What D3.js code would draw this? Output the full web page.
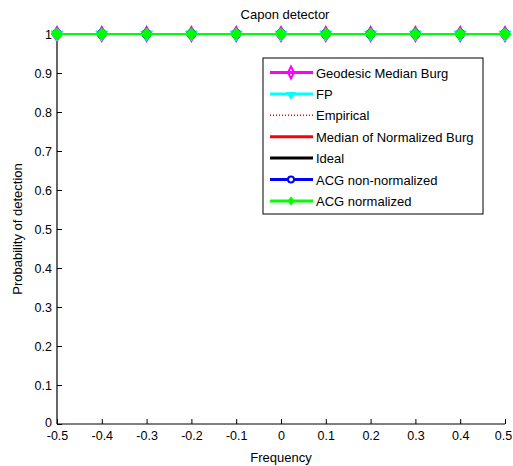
<!DOCTYPE html>
<html><head><meta charset="utf-8">
<script src="https://cdn.jsdelivr.net/npm/d3@7"></script>
<style>body{margin:0;background:#fff;} text{font-family:"Liberation Sans",Arial,sans-serif;}</style>
</head><body>
<svg id="c" width="513" height="466"></svg>
<script>
const frequencies = [-0.5,-0.4,-0.3,-0.2,-0.1,0,0.1,0.2,0.3,0.4,0.5];
const geodesicMedianBurg = [1,1,1,1,1,1,1,1,1,1,1];
const fp = [1,1,1,1,1,1,1,1,1,1,1];
const empirical = [1,1,1,1,1,1,1,1,1,1,1];
const medianNormalizedBurg = [1,1,1,1,1,1,1,1,1,1,1];
const ideal = [1,1,1,1,1,1,1,1,1,1,1];
const acgNonNormalized = [1,1,1,1,1,1,1,1,1,1,1];
const acgNormalized = [1,1,1,1,1,1,1,1,1,1,1];
const xTicks = [-0.5,-0.4,-0.3,-0.2,-0.1,0,0.1,0.2,0.3,0.4,0.5];
const yTicks = [0,0.1,0.2,0.3,0.4,0.5,0.6,0.7,0.8,0.9,1];
const seriesNames = ["Geodesic Median Burg","FP","Empirical","Median of Normalized Burg","Ideal","ACG non-normalized","ACG normalized"];

const series = [
  {name:seriesNames[0], values:geodesicMedianBurg, color:"#ff00ff", dash:null, marker:"diamond", w:2},
  {name:seriesNames[1], values:fp, color:"#00ffff", dash:null, marker:"triangle", w:2},
  {name:seriesNames[2], values:empirical, color:"#ff0000", dash:"1,2", marker:null, w:1.5},
  {name:seriesNames[3], values:medianNormalizedBurg, color:"#ff0000", dash:null, marker:null, w:2},
  {name:seriesNames[4], values:ideal, color:"#000000", dash:null, marker:null, w:2},
  {name:seriesNames[5], values:acgNonNormalized, color:"#0000ff", dash:null, marker:"circle", w:2},
  {name:seriesNames[6], values:acgNormalized, color:"#00ff00", dash:null, marker:"greendiamond", w:2}
];

const FS = 13, TFS = 12.5;
const svg = d3.select("#c");
const L=57, R=505, T=34, B=424;
const x = d3.scaleLinear().domain([-0.5,0.5]).range([L,R]);
const y = d3.scaleLinear().domain([0,1]).range([B,T]);
const fmt = d => String(+d.toFixed(1)).replace("\u2212","-");

// axes
const xAxis = d3.axisBottom(x).tickValues(xTicks).tickSize(-5).tickPadding(7).tickFormat(fmt);
const yAxis = d3.axisLeft(y).tickValues(yTicks).tickSize(-5).tickPadding(5).tickFormat(fmt);
const gx = svg.append("g").attr("transform",`translate(0,${B})`).call(xAxis);
const gy = svg.append("g").attr("transform",`translate(${L},0)`).call(yAxis);
[gx,gy].forEach(g=>{
  g.select(".domain").attr("stroke","#000").attr("stroke-width",1.2).attr("d", g===gx?`M${L},0H${R}`:`M0,${B}V${T}`);
  g.selectAll(".tick line").attr("stroke","#000");
  g.selectAll(".tick text").attr("font-size",TFS).attr("fill","#000").attr("font-family","Liberation Sans, Arial, sans-serif");
});
// keep last x label inside the window, nudge y "0" label up slightly
gx.selectAll(".tick text").filter(d=>d===0.5).attr("dx",-2);
gy.selectAll(".tick text").filter(d=>d===0).attr("dy","0.2em");

function drawMarker(g, type, color, cx, cy){
  if(type==="diamond"){
    g.append("path").attr("d",`M${cx},${cy-7}L${cx+4},${cy}L${cx},${cy+7}L${cx-4},${cy}Z`).attr("fill","none").attr("stroke",color).attr("stroke-width",2);
  } else if(type==="triangle"){
    g.append("path").attr("d",`M${cx-6},${cy-3}L${cx+6},${cy-3}L${cx},${cy+7}Z`).attr("fill",color).attr("stroke",color).attr("stroke-width",1);
  } else if(type==="circle"){
    g.append("circle").attr("cx",cx).attr("cy",cy).attr("r",4).attr("fill","none").attr("stroke",color).attr("stroke-width",2);
  } else if(type==="greendiamond"){
    g.append("path").attr("d",`M${cx},${cy-6}L${cx+6},${cy}L${cx},${cy+6}L${cx-6},${cy}Z`).attr("fill",color).attr("stroke",color).attr("stroke-width",1);
  }
}

const line = d3.line().x((d,i)=>x(frequencies[i])).y(d=>y(d));
const plot = svg.append("g");
series.forEach(s=>{
  plot.append("path").datum(s.values).attr("d",line).attr("fill","none")
    .attr("stroke",s.color).attr("stroke-width",s.w).attr("stroke-dasharray",s.dash);
  if(s.marker){
    s.values.forEach((v,i)=>drawMarker(plot,s.marker,s.color,x(frequencies[i]),y(v)));
  }
});

// title & labels
svg.append("text").attr("x",285).attr("y",19).attr("text-anchor","middle").attr("font-size",FS).text("Capon detector");
svg.append("text").attr("x",281).attr("y",462).attr("text-anchor","middle").attr("font-size",FS).text("Frequency");
svg.append("text").attr("transform","translate(22,229) rotate(-90)").attr("text-anchor","middle").attr("font-size",FS).text("Probability of detection");

// legend
const lg = svg.append("g");
lg.append("rect").attr("x",263).attr("y",58).attr("width",220).attr("height",156).attr("fill","#fff").attr("stroke","#000").attr("stroke-width",1);
series.forEach((s,i)=>{
  const ly = 72.5 + i*21.4;
  lg.append("line").attr("x1",270).attr("x2",313).attr("y1",ly).attr("y2",ly)
    .attr("stroke",s.color).attr("stroke-width",s.dash?1.5:3).attr("stroke-dasharray",s.dash);
  if(s.marker){
    const m = s.marker;
    if(m==="diamond"){
      lg.append("path").attr("d",`M291,${ly-6}L294,${ly}L291,${ly+6}L288,${ly}Z`).attr("fill","none").attr("stroke",s.color).attr("stroke-width",2);
    } else if(m==="triangle"){
      lg.append("path").attr("d",`M286,${ly-2}L296,${ly-2}L291,${ly+6}Z`).attr("fill",s.color);
    } else if(m==="circle"){
      lg.append("circle").attr("cx",291).attr("cy",ly).attr("r",3).attr("fill","#fff").attr("stroke",s.color).attr("stroke-width",2);
    } else {
      lg.append("path").attr("d",`M291,${ly-4}L294,${ly}L291,${ly+4}L288,${ly}Z`).attr("fill",s.color).attr("stroke",s.color);
    }
  }
  lg.append("text").attr("x",316).attr("y",ly+5).attr("font-size",FS).text(s.name);
});
</script>
</body></html>
